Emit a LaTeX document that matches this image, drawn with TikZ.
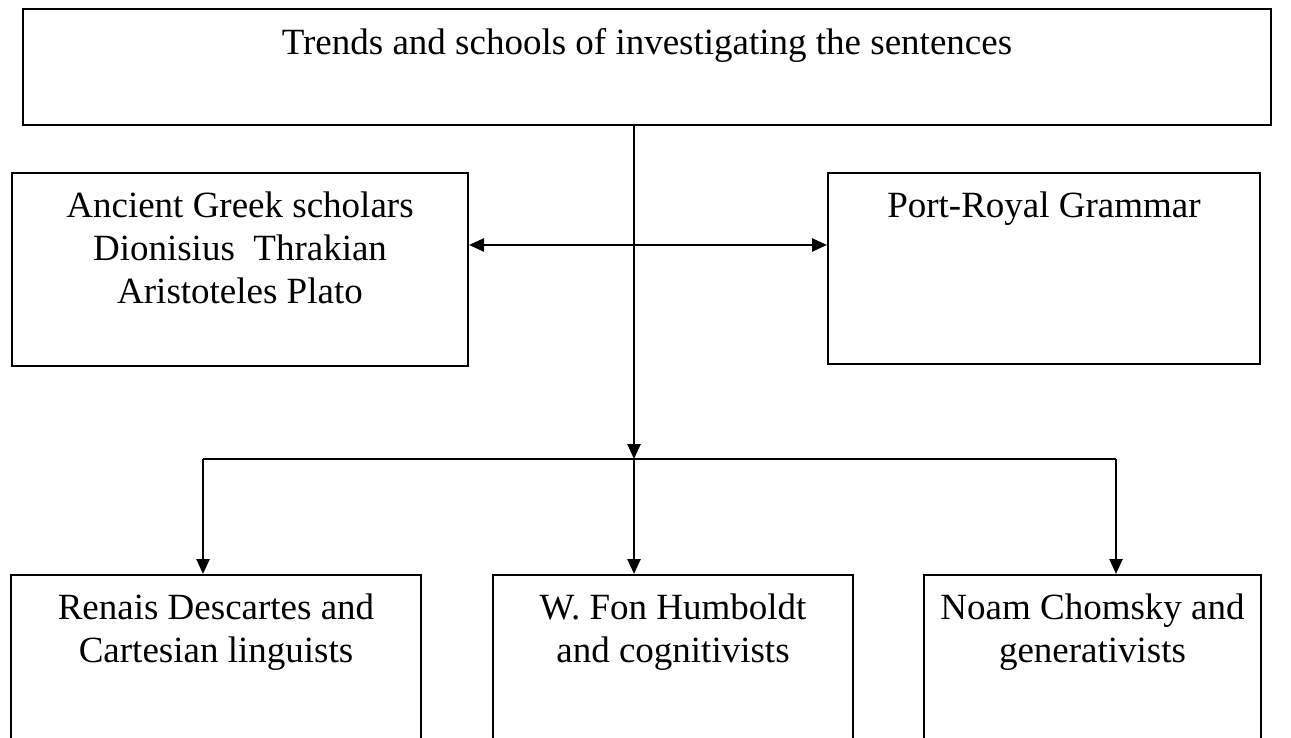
\documentclass[tikz,border=0pt]{standalone}
\usepackage{fontspec}
\setmainfont{Liberation Serif}
\usetikzlibrary{arrows.meta,positioning}
\tikzset {>={Triangle[length=15pt,width=13pt]}}
\tikzset{box/.style={draw,line width=2pt,inner sep=0pt,anchor=north west},
  txt/.style={align=center,inner sep=0pt,font=\fontsize{37}{43}\selectfont},
  conn/.style={line width=2.5pt}}

\begin{document}
\begin{tikzpicture}[x=1pt,y=-1pt]
\clip (0,0) rectangle (1291,738);
\node[box,minimum width=1248pt,minimum height=116pt] (trends) at (22,8) {};
\node[box,minimum width=456pt,minimum height=193pt] (greek) at (11,172) {};
\node[box,minimum width=432pt,minimum height=191pt] (port) at (827,172) {};
\node[box,minimum width=410pt,minimum height=220pt] (descartes) at (10,574) {};
\node[box,minimum width=360pt,minimum height=220pt] (humboldt) at (492,574) {};
\node[box,minimum width=337pt,minimum height=220pt] (chomsky) at (923,574) {};

\node[txt,below=20pt of trends.north] (trendstxt) {Trends and schools of investigating the sentences};
\node[txt,below=20pt of greek.north] (greektxt) {Ancient Greek scholars\\Dionisius~ Thrakian\\Aristoteles Plato};
\node[txt,below=20pt of port.north] (porttxt) {Port-Royal Grammar};
\node[txt,below=20pt of descartes.north] (descartestxt) {Renais Descartes and\\Cartesian linguists};
\node[txt,below=20pt of humboldt.north] (humboldttxt) {W. Fon Humboldt\\and cognitivists};
\node[txt,below=20pt of chomsky.north] (chomskytxt) {Noam Chomsky and\\generativists};

\coordinate (cross) at (634,245);
\coordinate (split) at (634,459);
\coordinate (lsplit) at (203,459);
\coordinate (rsplit) at (1116,459);

\draw[conn,->] (trends.south -| split) -- (split);
\draw[conn,->] (split) -- (split |- humboldt.north);
\draw[conn,<->] (cross -| greek.east) -- (cross -| port.west);
\draw[line width=1.5pt] (lsplit) -- (rsplit);
\draw[conn,->] (lsplit) -- (lsplit |- descartes.north);
\draw[conn,->] (rsplit) -- (rsplit |- chomsky.north);
\end{tikzpicture}
\end{document}
